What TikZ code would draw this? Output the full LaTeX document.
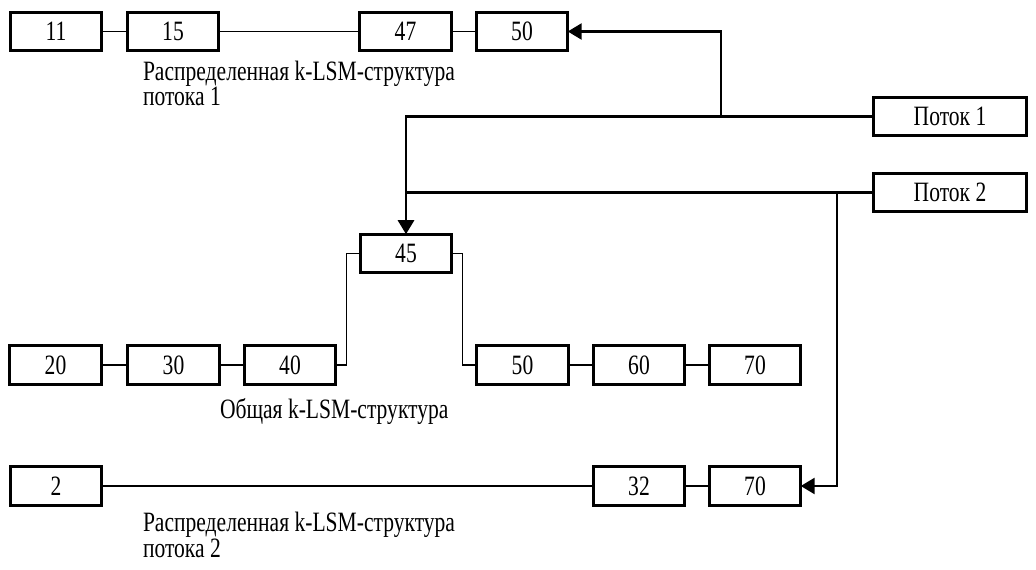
\documentclass[tikz,border=0pt]{standalone}
\usepackage{fontspec}
\setmainfont{Liberation Serif}[FakeStretch=0.77]
\usetikzlibrary{arrows.meta}
\tikzset{
  box/.style={draw, line width=2pt, inner sep=0pt, outer sep=0pt,
    minimum width=68.6pt, minimum height=28.9pt},
  flowbox/.style={box, minimum width=115.1pt},
  thin/.style={line width=0.9pt},
  flow/.style={line width=2pt, -{Triangle[length=10.5pt,width=12pt]}},
  flowline/.style={line width=2pt},
  lbl/.style={inner sep=0pt, outer sep=0pt, align=left, anchor=base west}
}
\begin{document}
\begin{tikzpicture}[x=0.75pt, y=-0.75pt,
  font=\fontsize{21pt}{15pt}\selectfont]
\useasboundingbox[fill=white] (0,0) rectangle (1036,570);
% row 1
\node[box] (n11) at (56,31.5) {11};
\node[box] (n15) at (173,31.5) {15};
\node[box] (n47) at (405.5,31.5) {47};
\node[box] (n50a) at (522,31.5) {50};
% 45
\node[box] (n45) at (406,253.5) {45};
% row 3
\node[box] (n20) at (55.5,365) {20};
\node[box] (n30) at (173.5,365) {30};
\node[box] (n40) at (290,365) {40};
\node[box] (n50b) at (522.5,365) {50};
\node[box] (n60) at (639,365) {60};
\node[box] (n70a) at (755,365) {70};
% row 4
\node[box] (n2) at (56,486) {2};
\node[box] (n32) at (639,486) {32};
\node[box] (n70b) at (755,486) {70};
% flows
\node[flowbox] (p1) at (950,116.5) {Поток 1};
\node[flowbox] (p2) at (950,192.5) {Поток 2};
% labels (base west = baseline of the last line)
\node[lbl] (l1) at (143,106) {Распределенная k-LSM-структура\\потока 1};
\node[lbl] (l2) at (220,418) {Общая k-LSM-структура};
\node[lbl] (l3) at (143,557) {Распределенная k-LSM-структура\\потока 2};
% thin connectors
\draw[thin] (n11) -- (n15);
\draw[thin] (n15) -- (n47);
\draw[thin] (n47) -- (n50a);
\draw[thin] (n20) -- (n30);
\draw[thin] (n30) -- (n40);
\draw[thin] (n40.east) -- ++(11,0) |- (n45.west);
\draw[thin] (n45.east) -- ++(11,0) |- (n50b.west);
\draw[thin] (n50b) -- (n60);
\draw[thin] (n60) -- (n70a);
\draw[thin] (n2) -- (n32);
\draw[thin] (n32) -- (n70b);
% flow arrows
\coordinate (b1) at (721,116.5);
\coordinate (b2) at (837,192.5);
\draw[flow] (p1.west) -| (n45.north);
\draw[flow] (b1) |- (n50a.east);
\draw[flowline] (p2.west) -- (n45.north |- p2.west);
\draw[flow] (b2) |- (n70b.east);
\end{tikzpicture}
\end{document}
